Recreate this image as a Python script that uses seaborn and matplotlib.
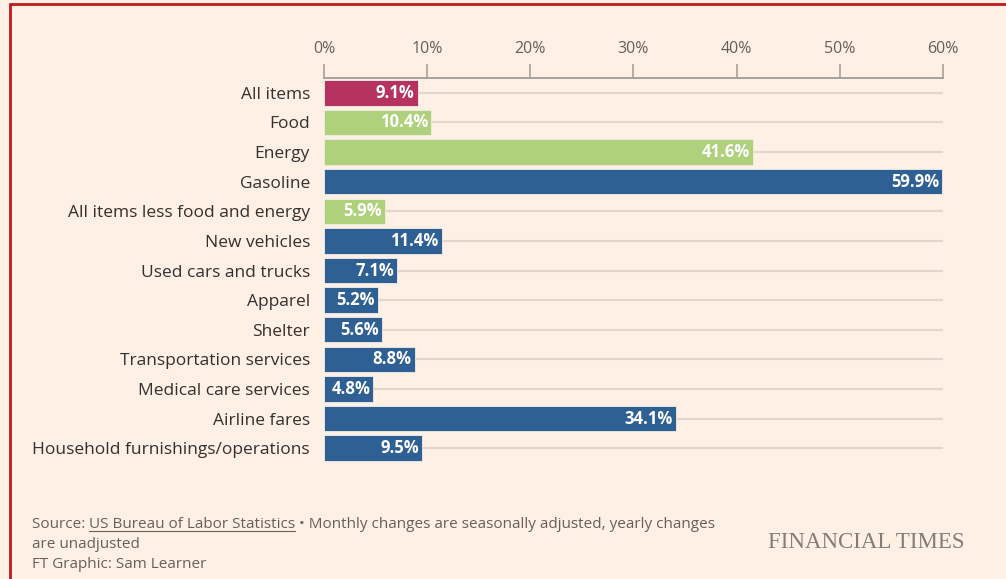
import matplotlib
matplotlib.use("Agg")
import matplotlib.pyplot as plt
import seaborn as sns
import pandas as pd
from matplotlib.lines import Line2D

# Dados
categories = ["All items", "Food", "Energy", "Gasoline", "All items less food and energy",
              "New vehicles", "Used cars and trucks", "Apparel", "Shelter",
              "Transportation services", "Medical care services", "Airline fares",
              "Household furnishings/operations"]
values = [9.1, 10.4, 41.6, 59.9, 5.9, 11.4, 7.1, 5.2, 5.6, 8.8, 4.8, 34.1, 9.5]
groups = ["all", "major", "major", "sub", "major", "sub", "sub", "sub", "sub",
          "sub", "sub", "sub", "sub"]
ticks = [0, 10, 20, 30, 40, 50, 60]

palette = {"all": "#B6325F", "major": "#AFD17C", "sub": "#2F6094"}
bg = "#FEF0E4"

df = pd.DataFrame({"category": categories, "value": values, "group": groups})

sns.set_theme(style="white")
plt.rcParams["font.family"] = ["Open Sans", "DejaVu Sans"]

fig = plt.figure(figsize=(10.06, 5.79), dpi=100, facecolor=bg)
ax = fig.add_axes([0.322, 0.2003, 0.6154, 0.665])
ax.set_facecolor(bg)

# linhas de fundo em cada categoria
ax.hlines(range(len(categories)), 0, 60, color="#E3D7CC", lw=1.6, zorder=0)

sns.barplot(data=df, x="value", y="category", hue="group", palette=palette,
            dodge=False, legend=False, width=0.86, saturation=1, ax=ax, zorder=2,
            edgecolor="#F3EEE8", linewidth=0.6)

for i, v in enumerate(values):
    ax.text(v - 0.3, i, f"{v}%", ha="right", va="center", color="white",
            fontsize=12, fontweight="bold", zorder=3)

ax.set_xlim(0, 60)
ax.set_ylim(len(categories) - 0.5, -0.5)
ax.xaxis.tick_top()
ax.set_xticks(ticks)
ax.set_xticklabels([f"{t}%" for t in ticks], color="#66605C", fontsize=11.5)
ax.tick_params(axis="x", direction="out", length=10, width=1.2, color="#A8A09A", pad=5)
ax.tick_params(axis="y", length=0, pad=10, labelsize=12.5, labelcolor="#33302E")
ax.set_xlabel("")
ax.set_ylabel("")
for s in ["right", "bottom", "left"]:
    ax.spines[s].set_visible(False)
ax.spines["top"].set_color("#A8A09A")
ax.spines["top"].set_linewidth(1.4)

# Rodapé
foot = dict(fontsize=11, color="#66605C", va="baseline")
t1 = fig.text(32 / 1006, 1 - 528 / 579, "Source: ", **foot)
fig.canvas.draw()
r = fig.canvas.get_renderer()
bb = t1.get_window_extent(r)
x2 = bb.x1 / fig.bbox.width
t2 = fig.text(x2, 1 - 528 / 579, "US Bureau of Labor Statistics", **foot)
fig.canvas.draw()
bb2 = t2.get_window_extent(r)
x3 = bb2.x1 / fig.bbox.width
y_ul = 1 - 531 / 579
fig.add_artist(Line2D([x2, x3], [y_ul, y_ul], color="#66605C", lw=0.8))
fig.text(x3, 1 - 528 / 579,
         " \u2022 Monthly changes are seasonally adjusted, yearly changes", **foot)
fig.text(32 / 1006, 1 - 548 / 579, "are unadjusted", **foot)
fig.text(32 / 1006, 1 - 568 / 579, "FT Graphic: Sam Learner", **foot)

fig.text(965 / 1006, 1 - 548 / 579, "FINANCIAL TIMES", ha="right", va="baseline",
         fontsize=16.5, color="#827D79", family=["Liberation Serif", "DejaVu Serif"])

# moldura vermelha
fig.add_artist(Line2D([10 / 1006, 1], [1 - 4 / 579, 1 - 4 / 579], color="#C0191E", lw=2))
fig.add_artist(Line2D([10 / 1006, 10 / 1006], [0, 1 - 4 / 579], color="#C0191E", lw=2))

fig.savefig("out.png", dpi=100, facecolor=bg)
